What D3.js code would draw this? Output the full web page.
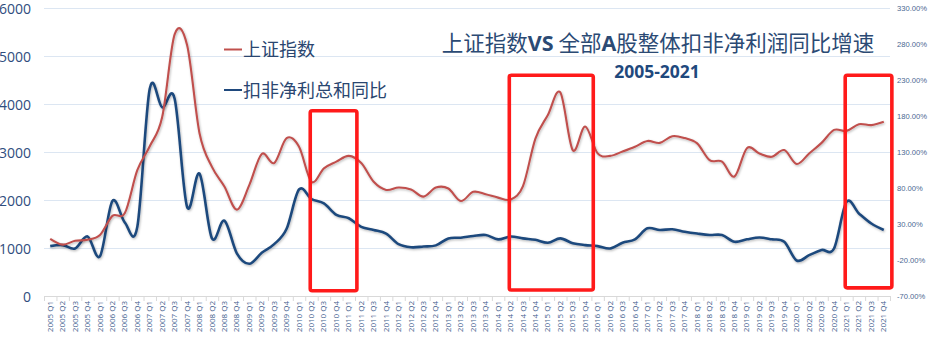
<!DOCTYPE html>
<html><head><meta charset="utf-8">
<script src="https://cdn.jsdelivr.net/npm/d3@7/dist/d3.min.js"></script>
<style>
html,body{margin:0;padding:0;background:#fff;}
svg{display:block;}
</style></head>
<body>
<svg id="chart" width="932" height="346"></svg>
<script>
// ---------- DATA ----------
const years = ["2005","2006","2007","2008","2009","2010","2011","2012","2013","2014","2015","2016","2017","2018","2019","2020","2021"];
const quarters = ["Q1","Q2","Q3","Q4"];
const categories = years.flatMap(y => quarters.map(q => y + " " + q));

// 上证指数 (left axis)
const shIndex = [1190,1070,1150,1170,1270,1670,1730,2620,3120,3730,5450,5230,3390,2690,2280,1800,
  2310,2960,2770,3290,3110,2380,2660,2800,2920,2770,2380,2210,2260,2220,2070,2260,
  2240,1980,2170,2120,2050,2010,2290,3280,3770,4240,3040,3530,2970,2920,3010,3110,
  3230,3190,3330,3290,3180,2830,2800,2490,3080,2970,2900,3040,2750,2970,3190,3460,
  3440,3580,3560,3630];

// 扣非净利总和同比 (right axis, %)
const profitYoY = [-0.7,0.7,-4,12.7,-14.7,62,32,26,218,192,204,54,100,10,34.7,-10.7,
  -25.3,-10,2,23.3,78,64.7,58.7,42.7,38,26,21.7,16.7,2,-2.3,-1.3,0.3,
  10,11,13.3,14.7,8.7,12.7,10,8,4,10,3.3,0.7,-0.7,-4,4,8.7,
  24,21.7,22.7,19.3,16.7,14.7,14.7,5.3,8.7,11.3,8.7,5.3,-20.7,-13.3,-6,-4,
  60.5,44.7,30.7,21.7];

const leftTicks = [0,1000,2000,3000,4000,5000,6000];
const rightTicks = [-70,-20,30,80,130,180,230,280,330];

const seriesNames = ["上证指数","扣非净利总和同比"];
const titleParts = [["上证指数",false],["VS",true],[" 全部",false],["A",true],["股整体扣非净利润同比增速",false]];
const subtitle = "2005-2021";

// highlighted periods: [first quarter, last quarter]
const highlights = [["2010 Q2","2011 Q1"],["2014 Q2","2015 Q4"],["2021 Q1","2021 Q4"]];

// ---------- LAYOUT ----------
const W = 932, H = 346;
const plot = {left:44, right:890, top:8, bottom:296};
const svg = d3.select("#chart");

const x = d3.scaleBand().domain(categories).range([plot.left, plot.right]).padding(0);
const yL = d3.scaleLinear().domain([0,6000]).range([plot.bottom, plot.top]);
const yR = d3.scaleLinear().domain([-70,330]).range([plot.bottom, plot.top]);
const cx = c => x(c) + x.bandwidth()/2;

const defs = svg.append("defs");
const f = defs.append("filter").attr("id","shadow").attr("x","-5%").attr("y","-5%").attr("width","110%").attr("height","120%");
f.append("feDropShadow").attr("dx",0.8).attr("dy",1.2).attr("stdDeviation",0.9).attr("flood-color","#000").attr("flood-opacity",0.28);

// gridlines
svg.append("g").selectAll("line").data(leftTicks.filter(d=>d>0)).join("line")
  .attr("x1",plot.left).attr("x2",plot.right)
  .attr("y1",d=>yL(d)+0.5).attr("y2",d=>yL(d)+0.5)
  .attr("stroke","#DCE6F2").attr("stroke-width",1);

// x axis
const xAxis = d3.axisBottom(x).tickSize(0).tickPadding(0);
const gx = svg.append("g").attr("transform",`translate(0,${plot.bottom})`).call(xAxis);
gx.select(".domain").attr("stroke","#D9D9D9");
gx.selectAll(".tick text")
  .attr("transform","rotate(-90)")
  .attr("x",-5).attr("y",0).attr("dy","0.32em")
  .attr("text-anchor","end")
  .attr("fill","#44618E")
  .style("font-family","'Open Sans', 'Liberation Sans', sans-serif")
  .style("font-size","8px");
// category boundary ticks
svg.append("g").selectAll("line").data(categories.concat(["__end"])).join("line")
  .attr("x1",(d,i)=> (i<categories.length ? x(d) : plot.right)+0.5)
  .attr("x2",(d,i)=> (i<categories.length ? x(d) : plot.right)+0.5)
  .attr("y1",plot.bottom).attr("y2",plot.bottom+5)
  .attr("stroke","#D9D9D9");

// left axis
const gyL = svg.append("g").attr("transform",`translate(${plot.left},0)`)
  .call(d3.axisLeft(yL).tickValues(leftTicks).tickSize(0).tickPadding(13).tickFormat(d3.format("d")));
gyL.select(".domain").remove();
gyL.selectAll("text").attr("fill","#2F4D7E").attr("dy","0.4em")
  .style("font-family","'Open Sans', 'Liberation Sans', sans-serif").style("font-size","14px");

// right axis
const gyR = svg.append("g").attr("transform",`translate(${plot.right},0)`)
  .call(d3.axisRight(yR).tickValues(rightTicks).tickSize(0).tickPadding(7).tickFormat(d=>d.toFixed(2)+"%"));
gyR.select(".domain").remove();
gyR.selectAll("text").attr("fill","#4A6791")
  .style("font-family","'Liberation Sans', 'Open Sans', sans-serif").style("font-size","7.6px");

// lines
const curve = d3.curveCardinal.tension(0);
const lineL = d3.line().x((d,i)=>cx(categories[i])).y(d=>yL(d)).curve(curve);
const lineR = d3.line().x((d,i)=>cx(categories[i])).y(d=>yR(d)).curve(curve);

svg.append("path").datum(profitYoY).attr("d",lineR)
  .attr("fill","none").attr("stroke","#1F497D").attr("stroke-width",2.6)
  .attr("stroke-linejoin","round").attr("filter","url(#shadow)");
svg.append("path").datum(shIndex).attr("d",lineL)
  .attr("fill","none").attr("stroke","#C0504D").attr("stroke-width",2.1)
  .attr("stroke-linejoin","round").attr("filter","url(#shadow)");

// highlight boxes
const bw = x.bandwidth();
svg.append("g").selectAll("rect").data(highlights).join("rect")
  .attr("x",d=>cx(d[0]) - bw*0.1)
  .attr("width",d=>cx(d[1]) - cx(d[0]) + bw*0.75)
  .attr("y",(d,i)=> i===0 ? yL(3860) : yL(4600))
  .attr("height",(d,i)=> i===0 ? yL(110)-yL(3860) : (i===1 ? yL(125)-yL(4600) : yL(170)-yL(4600)))
  .attr("rx",2)
  .attr("fill","none").attr("stroke","#FF1A1A").attr("stroke-width",3.6);

// legend
const legendColors = ["#C0504D","#1F497D"];
const lg = svg.append("g");
seriesNames.forEach((name,i)=>{
  const yy = 56 + i*40.5;
  lg.append("line").attr("x1",224).attr("x2",242).attr("y1",yy-6.5).attr("y2",yy-6.5)
    .attr("stroke",legendColors[i]).attr("stroke-width",2);
  lg.append("text").attr("x",243).attr("y",yy).text(name)
    .attr("fill","#2A4670")
    .style("font-family","'Noto Sans CJK SC', sans-serif").style("font-size","18px");
});

// title
const t = svg.append("text").attr("x",658).attr("y",51).attr("text-anchor","middle")
  .attr("fill","#2B4A74")
  .style("font-family","'Noto Sans CJK SC', sans-serif").style("font-size","21.5px");
titleParts.forEach(([s,b])=>{
  t.append("tspan").text(s)
   .style("font-weight", b ? "700" : "400")
   .style("font-family", b ? "'Open Sans','Noto Sans CJK SC',sans-serif" : "'Noto Sans CJK SC', sans-serif");
});
svg.append("text").attr("x",657).attr("y",78).attr("text-anchor","middle")
  .attr("fill","#1F497D").text(subtitle)
  .style("font-family","'Open Sans', sans-serif").style("font-weight","700").style("font-size","17.5px");
</script>
</body></html>
